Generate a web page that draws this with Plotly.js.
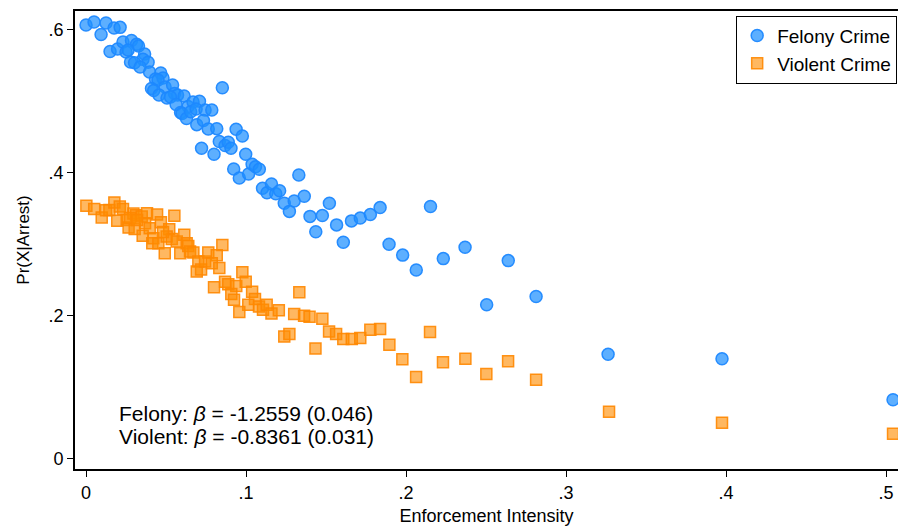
<!DOCTYPE html>
<html>
<head>
<meta charset="utf-8">
<script src="https://cdn.plot.ly/plotly-3.0.1.min.js"></script>
<style>html,body{margin:0;padding:0;background:#fff;overflow:hidden}#chart{width:898px;height:526px}</style>
</head>
<body>
<div id="chart"></div>
<script>
// Felony crime: enforcement intensity vs Pr(X|Arrest)
const felonyX = [0.000,0.005,0.0125,0.0175,0.0213,0.0094,0.015,0.0197,0.0231,0.0284,0.0316,0.0328,0.025,0.0263,0.0366,0.0356,0.0388,0.0278,0.0303,0.0338,0.0397,0.0467,0.0434,0.0481,0.045,0.0409,0.0423,0.0494,0.0541,0.0456,0.0506,0.0553,0.0572,0.0613,0.0528,0.0563,0.0638,0.0669,0.0709,0.0591,0.060,0.0628,0.0654,0.0688,0.0744,0.0786,0.0692,0.0734,0.0764,0.0817,0.0938,0.0852,0.0977,0.0722,0.080,0.0833,0.0869,0.0889,0.0906,0.0998,0.0923,0.0958,0.1016,0.1038,0.1059,0.1083,0.1103,0.1131,0.1159,0.1186,0.1210,0.1239,0.1271,0.1301,0.1330,0.1364,0.140,0.1436,0.1477,0.1521,0.1566,0.1608,0.1659,0.1714,0.1777,0.1838,0.1894,0.1979,0.2064,0.2153,0.2233,0.2369,0.2504,0.2639,0.2813,0.3263,0.3975,0.5044];
const felonyY = [0.6063,0.6105,0.6091,0.6021,0.6031,0.5930,0.5692,0.5727,0.5825,0.5846,0.5793,0.5769,0.5685,0.5713,0.5657,0.5583,0.5543,0.5545,0.5536,0.5476,0.5406,0.5392,0.5308,0.5322,0.5294,0.5175,0.5147,0.5196,0.5224,0.5084,0.5042,0.5105,0.5084,0.5070,0.5056,0.4951,0.4923,0.4986,0.4996,0.4839,0.4825,0.4755,0.4850,0.4888,0.4874,0.4874,0.4669,0.4727,0.4608,0.4613,0.4604,0.5186,0.4510,0.4338,0.4255,0.4434,0.4378,0.4422,0.4338,0.4255,0.4049,0.3923,0.3979,0.4115,0.4081,0.4046,0.3780,0.3717,0.3839,0.3703,0.3745,0.3569,0.3455,0.3601,0.3965,0.3667,0.3385,0.3171,0.3396,0.3569,0.3266,0.3024,0.3322,0.3361,0.3410,0.3508,0.2996,0.2843,0.2634,0.3524,0.2794,0.2954,0.2147,0.2766,0.2263,0.1455,0.1392,0.0818];

// Violent crime
const violentX = [0.0002,0.0051,0.0098,0.0125,0.0146,0.0177,0.0211,0.0231,0.0195,0.0254,0.0296,0.0313,0.0348,0.0381,0.0444,0.0552,0.0266,0.0304,0.0354,0.0369,0.0398,0.0468,0.052,0.0421,0.0414,0.0452,0.0492,0.0504,0.0536,0.0567,0.0589,0.0614,0.0629,0.0639,0.065,0.0671,0.0702,0.0692,0.0719,0.0744,0.0764,0.0817,0.0786,0.0833,0.0852,0.080,0.0869,0.0889,0.0939,0.0977,0.0998,0.0908,0.0925,0.1038,0.1056,0.1014,0.0958,0.1081,0.1106,0.1129,0.1159,0.1205,0.1301,0.1363,0.1397,0.1333,0.1239,0.1271,0.1434,0.1477,0.1519,0.1563,0.1608,0.1661,0.1714,0.1777,0.1838,0.1896,0.1977,0.2063,0.215,0.2231,0.2371,0.2502,0.2638,0.2813,0.3269,0.3975,0.5044,0.0275,0.0319,0.0481];
const violentY = [0.3534,0.3490,0.3371,0.3471,0.3476,0.3580,0.3522,0.3490,0.3324,0.3336,0.3424,0.3401,0.3382,0.3429,0.3410,0.3394,0.3228,0.3207,0.3115,0.3290,0.3220,0.3303,0.3206,0.3080,0.3010,0.3010,0.2870,0.3102,0.3070,0.3032,0.2870,0.3129,0.3010,0.2972,0.2895,0.2881,0.2752,0.2613,0.2641,0.2752,0.2881,0.2842,0.2730,0.2664,0.2986,0.2394,0.2469,0.2434,0.2410,0.2604,0.2469,0.2297,0.2217,0.2329,0.2228,0.2147,0.2045,0.2123,0.2077,0.2147,0.2025,0.2070,0.2018,0.1993,0.1979,0.2324,0.1703,0.1738,0.1536,0.1951,0.1773,0.1737,0.1667,0.1667,0.1681,0.1797,0.1807,0.1587,0.1387,0.1136,0.1765,0.1345,0.1392,0.1178,0.1359,0.1098,0.0650,0.0497,0.0343,0.3364,0.3336,0.3168];

const xTickVals = [0, 0.1, 0.2, 0.3, 0.4, 0.5];
const xTickText = ['0', '.1', '.2', '.3', '.4', '.5'];
const yTickVals = [0, 0.2, 0.4, 0.6];
const yTickText = ['0', '.2', '.4', '.6'];
const seriesNames = ['Felony Crime', 'Violent Crime'];
const noteLines = ['Felony: <i>β</i> = -1.2559 (0.046)', 'Violent: <i>β</i> = -0.8361 (0.031)'];

const FONT = 'Liberation Sans, Arial, Helvetica, sans-serif';

const traces = [
  {
    x: felonyX, y: felonyY, type: 'scatter', mode: 'markers', name: seriesNames[0],
    marker: {symbol: 'circle', size: 12, color: 'rgba(30,144,255,0.72)', line: {color: 'rgba(30,136,255,0.95)', width: 1.5}}
  },
  {
    x: violentX, y: violentY, type: 'scatter', mode: 'markers', name: seriesNames[1],
    marker: {symbol: 'square', size: 11, color: 'rgba(255,140,0,0.62)', line: {color: 'rgba(255,135,0,0.9)', width: 1.5}}
  }
];

const layout = {
  width: 898, height: 526,
  margin: {l: 75, r: 0, t: 11, b: 57},
  paper_bgcolor: '#fff', plot_bgcolor: '#fff',
  font: {family: FONT, color: '#000', size: 18},
  showlegend: true,
  legend: {
    x: 0.999, xanchor: 'right', y: 0.99, yanchor: 'top',
    bordercolor: '#000', borderwidth: 1, bgcolor: '#fff',
    font: {family: FONT, size: 19, color: '#000'},
    itemwidth: 30, tracegroupgap: 2
  },
  xaxis: {
    range: [-0.0069, 0.5075], tickvals: xTickVals, ticktext: xTickText,
    ticks: 'outside', ticklen: 6, tickwidth: 1, tickcolor: '#000',
    showline: true, linecolor: '#000', linewidth: 2, mirror: true,
    showgrid: false, zeroline: false,
    tickfont: {family: FONT, size: 18, color: '#000'},
    title: {text: 'Enforcement Intensity', font: {family: FONT, size: 18, color: '#000'}, standoff: 10}
  },
  yaxis: {
    range: [-0.0151, 0.626], tickvals: yTickVals, ticktext: yTickText,
    ticks: 'outside', ticklen: 6, tickwidth: 1, tickcolor: '#000',
    showline: true, linecolor: '#000', linewidth: 2,
    showgrid: false, zeroline: false,
    tickfont: {family: FONT, size: 18, color: '#000'},
    title: {text: 'Pr(X|Arrest)', font: {family: FONT, size: 17, color: '#000'}, standoff: 14}
  },
  annotations: [
    {x: 0.0195, y: 0.0625, xref: 'x', yref: 'y', xanchor: 'left', yanchor: 'middle', showarrow: false,
     text: noteLines[0], font: {family: FONT, size: 21, color: '#000'}},
    {x: 0.0195, y: 0.030, xref: 'x', yref: 'y', xanchor: 'left', yanchor: 'middle', showarrow: false,
     text: noteLines[1], font: {family: FONT, size: 21, color: '#000'}}
  ]
};

Plotly.newPlot('chart', traces, layout, {displayModeBar: false, staticPlot: true});
</script>
</body>
</html>
